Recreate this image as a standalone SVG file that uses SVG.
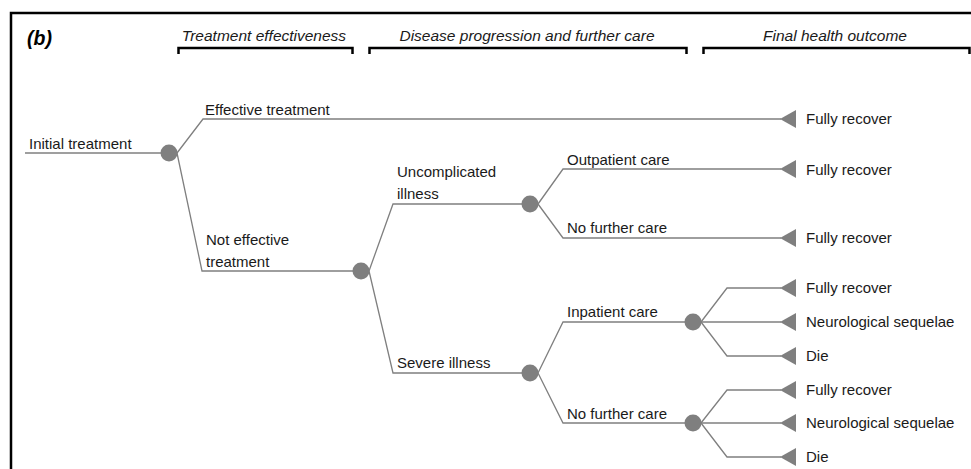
<svg xmlns="http://www.w3.org/2000/svg" width="971" height="469" viewBox="0 0 971 469">
<style>
.t{font-family:"Liberation Sans",Arial,sans-serif;font-size:15px;fill:#1a1a1a}
.h{font-family:"Liberation Sans",Arial,sans-serif;font-size:15.5px;font-style:italic;fill:#1a1a1a;text-anchor:middle}
.br{fill:none;stroke:#000;stroke-width:2.5}
.e{fill:none;stroke:#7f7f7f;stroke-width:1.3}
.c{fill:#7f7f7f}
.tri{fill:#7f7f7f}
</style>
<rect width="971" height="469" fill="#fff"/>
<path d="M11,472 L11,13 L975,13" fill="none" stroke="#000" stroke-width="2.5"/>
<text x="27" y="45" font-family="Liberation Sans,Arial,sans-serif" font-size="19.5" font-weight="bold" font-style="italic" fill="#000">(b)</text>
<g id="headers">
<text class="h" x="264" y="41">Treatment effectiveness</text>
<path class="br" d="M178.5,54 V48 H352.5 V54"/>
<text class="h" x="527" y="41">Disease progression and further care</text>
<path class="br" d="M369.5,54 V48 H686.5 V54"/>
<text class="h" x="835" y="41">Final health outcome</text>
<path class="br" d="M703.5,54 V48 H969.5 V54"/>
</g>
<g id="connectors">
<path class="e" d="M25,153 H169"/>
<path class="e" d="M177,153 L203,119 H781"/>
<path class="e" d="M177,153 L202,271 H361"/>
<path class="e" d="M369,271 L393,204 H530"/>
<path class="e" d="M538,204 L563,169 H781"/>
<path class="e" d="M538,204 L563,238 H781"/>
<path class="e" d="M369,271 L393,373 H530"/>
<path class="e" d="M538,373 L563,322 H693"/>
<path class="e" d="M538,373 L563,423 H693"/>
<path class="e" d="M701,322 L727,288 H781"/>
<path class="e" d="M701,322 H781"/>
<path class="e" d="M701,322 L727,356 H781"/>
<path class="e" d="M701,423 L727,390 H781"/>
<path class="e" d="M701,423 H781"/>
<path class="e" d="M701,423 L727,457 H781"/>
</g>
<g id="n-initial"><text class="t" x="29" y="149">Initial treatment</text><circle class="c" cx="169" cy="153" r="8.5"/></g>
<g id="n-effective"><text class="t" x="205" y="115">Effective treatment</text></g>
<g id="n-noteffective"><text class="t" x="206" y="245">Not effective</text><text class="t" x="206" y="267">treatment</text><circle class="c" cx="361" cy="271" r="8.5"/></g>
<g id="n-uncomplicated"><text class="t" x="397" y="177">Uncomplicated</text><text class="t" x="397" y="199">illness</text><circle class="c" cx="530" cy="204" r="8.5"/></g>
<g id="n-outpatient"><text class="t" x="567" y="165">Outpatient care</text></g>
<g id="n-nocare1"><text class="t" x="567" y="233">No further care</text></g>
<g id="n-severe"><text class="t" x="397" y="368">Severe illness</text><circle class="c" cx="530" cy="373" r="8.5"/></g>
<g id="n-inpatient"><text class="t" x="567" y="317">Inpatient care</text><circle class="c" cx="693" cy="322" r="8.5"/></g>
<g id="n-nocare2"><text class="t" x="567" y="419">No further care</text><circle class="c" cx="693" cy="423" r="8.5"/></g>
<g id="o1"><polygon class="tri" points="780,119 796,110 796,128"/><text class="t" x="806" y="124">Fully recover</text></g>
<g id="o2"><polygon class="tri" points="780,169 796,160 796,178"/><text class="t" x="806" y="175">Fully recover</text></g>
<g id="o3"><polygon class="tri" points="780,238 796,229 796,247"/><text class="t" x="806" y="243">Fully recover</text></g>
<g id="o4"><polygon class="tri" points="780,288 796,279 796,297"/><text class="t" x="806" y="293">Fully recover</text></g>
<g id="o5"><polygon class="tri" points="780,322 796,313 796,331"/><text class="t" x="806" y="327">Neurological sequelae</text></g>
<g id="o6"><polygon class="tri" points="780,356 796,347 796,365"/><text class="t" x="806" y="361">Die</text></g>
<g id="o7"><polygon class="tri" points="780,390 796,381 796,399"/><text class="t" x="806" y="395">Fully recover</text></g>
<g id="o8"><polygon class="tri" points="780,423 796,414 796,432"/><text class="t" x="806" y="428">Neurological sequelae</text></g>
<g id="o9"><polygon class="tri" points="780,457 796,448 796,466"/><text class="t" x="806" y="462">Die</text></g>
</svg>
